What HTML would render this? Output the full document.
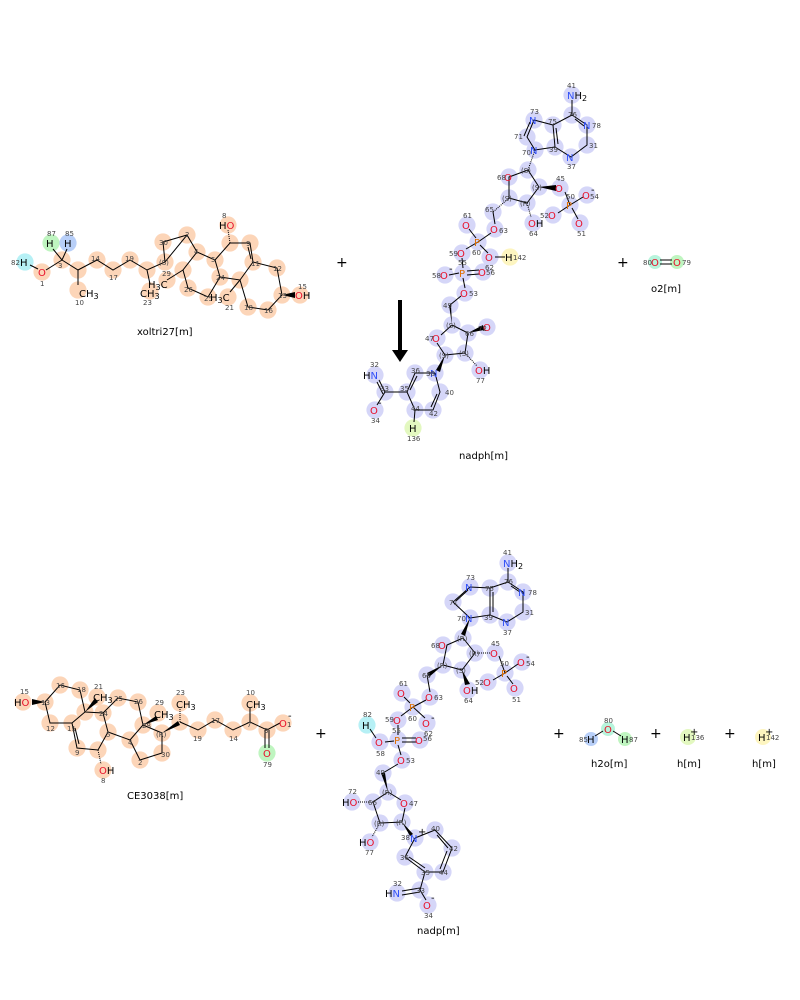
<!DOCTYPE html>
<html><head><meta charset="utf-8"><style>
html,body{margin:0;padding:0;background:#fff}
svg{display:block}
text{font-family:"DejaVu Sans","Liberation Sans",sans-serif}
.n{font-size:7px;fill:#444}
.a{font-size:10px}
.O{fill:#e8102a}.N{fill:#3050f8}.P{fill:#e07000}.H{fill:#000}
.lb{font-size:10px;fill:#000}
.pl{font-size:14px;fill:#000}
.hp circle,.hb circle{r:8.6px}
.hp{fill:#fcd5b8}.hb{fill:#d5d6f8}
line,polyline,polygon.r{stroke:#000;stroke-width:1;fill:none}
</style></head><body>
<svg width="800" height="1000" viewBox="0 0 800 1000" xmlns="http://www.w3.org/2000/svg">

<!-- ========== xoltri27 ========== -->
<g class="hp">
<circle cx="62" cy="260" r="8"/><circle cx="78" cy="270" r="8"/><circle cx="78" cy="290" r="9"/><circle cx="97" cy="260" r="8"/><circle cx="113" cy="270" r="8"/><circle cx="130" cy="260" r="8"/><circle cx="147" cy="270" r="8"/><circle cx="150" cy="291" r="9"/><circle cx="165" cy="262" r="9"/><circle cx="163" cy="242" r="8"/><circle cx="187" cy="235" r="8"/><circle cx="197" cy="252" r="8"/><circle cx="183" cy="270" r="8"/><circle cx="188" cy="288" r="8"/><circle cx="208" cy="297" r="8"/><circle cx="220" cy="277" r="8"/><circle cx="215" cy="260" r="8"/><circle cx="230" cy="243" r="8"/><circle cx="228" cy="225" r="9"/><circle cx="250" cy="243" r="8"/><circle cx="253" cy="262" r="8"/><circle cx="240" cy="280" r="8"/><circle cx="248" cy="307" r="8"/><circle cx="268" cy="310" r="8"/><circle cx="282" cy="295" r="8"/><circle cx="277" cy="268" r="8"/><circle cx="300" cy="295" r="9"/><circle cx="167" cy="280" r="8"/><circle cx="228" cy="297" r="8"/><circle cx="42" cy="272" r="8"/>
</g>
<circle cx="25" cy="262" r="8.6" fill="#b6f0f5"/>
<circle cx="51" cy="243" r="8.6" fill="#bff5c0"/>
<circle cx="68" cy="243" r="8.6" fill="#b8cff8"/>
<g>
<line x1="30" y1="265" x2="38" y2="269"/><line x1="46" y1="270" x2="62" y2="260"/><line x1="62" y1="260" x2="53" y2="249"/><line x1="62" y1="260" x2="67" y2="249"/>
<polyline points="62,260 78,270 97,260 113,270 130,260 147,270 165,262 187,235 197,252 183,270 188,288 208,297 220,277 215,260 197,252"/>
<line x1="78" y1="270" x2="78" y2="285"/><line x1="147" y1="270" x2="150" y2="284"/>
<line x1="165" y1="262" x2="163" y2="242"/><line x1="163" y1="242" x2="187" y2="235"/>
<line x1="183" y1="270" x2="167" y2="280"/>
<polyline points="215,260 230,243 250,243 253,262 240,280 220,277"/>
<line x1="248" y1="247" x2="251" y2="259"/>
<line x1="230" y1="243" x2="228" y2="230" stroke-dasharray="1,1"/>
<polyline points="253,262 277,268 282,295 268,310 248,307 240,280"/>
<line x1="240" y1="280" x2="230" y2="292"/>
<polygon points="282,295 295,292 295,298" fill="#000"/>
</g>
<text class="a H" x="20" y="266">H</text><text class="n" x="11" y="265">82</text>
<text class="a O" x="38" y="276">O</text><text class="n" x="40" y="286">1</text>
<text class="a H" x="46" y="247">H</text><text class="n" x="47" y="236">87</text>
<text class="a H" x="64" y="247">H</text><text class="n" x="65" y="236">85</text>
<text class="n" x="58" y="268">3</text><text class="n" x="91" y="261">14</text><text class="n" x="109" y="280">17</text><text class="n" x="125" y="261">19</text>
<text class="a H" x="79" y="297">CH<tspan font-size="8" dy="2">3</tspan></text><text class="n" x="75" y="305">10</text>
<text class="a H" x="140" y="297">CH<tspan font-size="8" dy="2">3</tspan></text><text class="n" x="143" y="305">23</text>
<text class="a H" x="148" y="288">H<tspan font-size="8" dy="2">3</tspan><tspan dy="-2">C</tspan></text><text class="n" x="162" y="276">29</text>
<text class="n" x="159" y="265">(S)</text><text class="n" x="159" y="245">30</text><text class="n" x="185" y="237">2</text><text class="n" x="194" y="254">4</text><text class="n" x="184" y="292">26</text><text class="n" x="204" y="301">25</text><text class="n" x="216" y="280">24</text><text class="n" x="211" y="262">5</text><text class="n" x="246" y="246">9</text><text class="n" x="251" y="266">11</text><text class="n" x="244" y="310">18</text><text class="n" x="264" y="313">16</text><text class="n" x="273" y="271">12</text><text class="n" x="278" y="298">13</text>
<text class="a H" x="219" y="229">H<tspan class="O">O</tspan></text><text class="n" x="222" y="218">8</text>
<text class="a H" x="210" y="301">H<tspan font-size="8" dy="2">3</tspan><tspan dy="-2">C</tspan></text><text class="n" x="225" y="310">21</text>
<text class="a O" x="295" y="299">O<tspan class="H">H</tspan></text><text class="n" x="298" y="289">15</text>
<text class="lb" x="137" y="335">xoltri27[m]</text>

<text class="pl" x="336" y="267">+</text>

<!-- ========== nadph ========== -->
<g class="hb">
<circle cx="572" cy="95" r="8"/><circle cx="572" cy="115" r="8"/><circle cx="587" cy="125" r="8"/><circle cx="587" cy="145" r="8"/><circle cx="571" cy="157" r="8"/><circle cx="555" cy="147" r="8"/><circle cx="553" cy="125" r="8"/><circle cx="534" cy="120" r="8"/><circle cx="527" cy="137" r="8"/><circle cx="535" cy="150" r="8"/><circle cx="528" cy="170" r="8"/><circle cx="509" cy="177" r="8"/><circle cx="539" cy="187" r="8"/><circle cx="560" cy="188" r="8"/><circle cx="570" cy="205" r="8"/><circle cx="587" cy="195" r="8"/><circle cx="553" cy="215" r="8"/><circle cx="580" cy="223" r="8"/><circle cx="527" cy="203" r="8"/><circle cx="533" cy="223" r="8"/><circle cx="509" cy="198" r="8"/><circle cx="493" cy="212" r="8"/><circle cx="495" cy="229" r="8"/><circle cx="478" cy="242" r="8"/><circle cx="467" cy="225" r="8"/><circle cx="462" cy="253" r="8"/><circle cx="490" cy="257" r="8"/><circle cx="463" cy="273" r="8"/><circle cx="445" cy="275" r="8"/><circle cx="483" cy="272" r="8"/><circle cx="465" cy="293" r="8"/><circle cx="450" cy="305" r="8"/><circle cx="452" cy="325" r="8"/><circle cx="468" cy="333" r="8"/><circle cx="487" cy="327" r="8"/><circle cx="437" cy="338" r="8"/><circle cx="445" cy="355" r="8"/><circle cx="465" cy="353" r="8"/><circle cx="480" cy="370" r="8"/><circle cx="435" cy="373" r="8"/><circle cx="415" cy="373" r="8"/><circle cx="407" cy="392" r="8"/><circle cx="385" cy="392" r="8"/><circle cx="375" cy="375" r="8"/><circle cx="375" cy="410" r="8"/><circle cx="415" cy="410" r="8"/><circle cx="433" cy="410" r="8"/><circle cx="440" cy="392" r="8"/>
</g>
<circle cx="510" cy="257" r="8.6" fill="#fdf5c0"/>
<circle cx="413" cy="428" r="8.6" fill="#e3f8c0"/>
<g>
<line x1="572" y1="100" x2="572" y2="115"/><polyline points="572,115 587,125 587,145 571,157 555,147 553,125 572,115"/>
<line x1="556" y1="128" x2="558" y2="144"/><line x1="575" y1="119" x2="584" y2="126"/>
<polyline points="553,125 534,120 527,137 535,150 555,147"/><line x1="530" y1="122" x2="524" y2="136"/>
<line x1="535" y1="150" x2="528" y2="170" stroke-dasharray="1,1"/>
<polyline points="528,170 509,177 509,198 527,203 539,187 528,170"/>
<polygon points="539,187 556,185 556,191" fill="#000"/>
<polyline points="565,192 570,205 583,197"/><line x1="570" y1="205" x2="558" y2="213"/><line x1="572" y1="208" x2="578" y2="219"/>
<line x1="527" y1="203" x2="531" y2="217" stroke-dasharray="1,1"/>
<line x1="509" y1="198" x2="493" y2="212" stroke-dasharray="1,1"/>
<line x1="493" y1="212" x2="495" y2="224"/><line x1="491" y1="233" x2="478" y2="242"/>
<line x1="476" y1="238" x2="469" y2="229"/><line x1="480" y1="245" x2="488" y2="253"/><line x1="495" y1="257" x2="505" y2="257"/>
<line x1="478" y1="242" x2="466" y2="249"/><line x1="462" y1="258" x2="463" y2="268"/>
<line x1="449" y1="275" x2="459" y2="273"/><line x1="467" y1="271" x2="479" y2="270"/><line x1="467" y1="275" x2="479" y2="274"/>
<line x1="463" y1="278" x2="465" y2="288"/><line x1="461" y1="296" x2="450" y2="305"/>
<polygon points="452,325 449,305 451,305" fill="#000"/>
<polyline points="452,325 468,333 465,353 445,355 437,343"/><line x1="441" y1="335" x2="452" y2="325"/>
<polygon points="468,333 483,325 484,330" fill="#000"/>
<line x1="465" y1="353" x2="477" y2="366" stroke-dasharray="1,1"/>
<polygon points="445,355 436,370 440,372" fill="#000"/>
<polyline points="435,373 415,373 407,392 415,410 433,410 440,392 435,373"/>
<line x1="410" y1="390" x2="417" y2="376"/><line x1="437" y1="394" x2="431" y2="407"/>
<line x1="407" y1="392" x2="385" y2="392"/><line x1="385" y1="392" x2="379" y2="380"/><line x1="383" y1="394" x2="377" y2="382"/><line x1="385" y1="392" x2="377" y2="405"/>
<line x1="415" y1="410" x2="414" y2="422"/>
</g>
<text class="a N" x="567" y="99">N<tspan class="H">H</tspan><tspan class="H" font-size="8" dy="2">2</tspan></text><text class="n" x="567" y="88">41</text>
<text class="a N" x="583" y="129">N</text><text class="n" x="592" y="128">78</text><text class="n" x="589" y="148">31</text>
<text class="a N" x="566" y="161">N</text><text class="n" x="567" y="169">37</text>
<text class="a N" x="529" y="124">N</text><text class="n" x="530" y="114">73</text><text class="n" x="514" y="139">71</text>
<text class="a N" x="530" y="154">N</text><text class="n" x="522" y="155">70</text><text class="n" x="549" y="152">39</text><text class="n" x="548" y="124">75</text><text class="n" x="568" y="117">76</text>
<text class="n" x="521" y="173">(S)</text><text class="n" x="532" y="190">(S)</text><text class="n" x="520" y="206">(R)</text><text class="n" x="502" y="201">(S)</text>
<text class="a O" x="504" y="181">O</text><text class="n" x="497" y="180">68</text>
<text class="a O" x="555" y="192">O</text><text class="n" x="556" y="181">45</text>
<text class="a P" x="566" y="209">P</text><text class="n" x="566" y="199">50</text>
<text class="a O" x="582" y="199">O</text><text class="a H" x="591" y="193">-</text><text class="n" x="590" y="199">54</text>
<text class="a O" x="548" y="219">O</text><text class="n" x="540" y="218">52</text>
<text class="a O" x="575" y="227">O</text><text class="n" x="577" y="236">51</text>
<text class="a O" x="528" y="227">O<tspan class="H">H</tspan></text><text class="n" x="529" y="236">64</text>
<text class="n" x="485" y="212">65</text>
<text class="a O" x="490" y="233">O</text><text class="n" x="499" y="233">63</text>
<text class="a P" x="474" y="246">P</text><text class="n" x="472" y="255">60</text>
<text class="a O" x="462" y="229">O</text><text class="n" x="463" y="218">61</text>
<text class="a O" x="457" y="257">O</text><text class="n" x="449" y="256">59</text>
<text class="a O" x="485" y="261">O</text><text class="n" x="485" y="270">62</text>
<text class="a H" x="505" y="261">H</text><text class="n" x="513" y="260">142</text>
<text class="a P" x="459" y="277">P</text><text class="n" x="458" y="265">55</text>
<text class="a O" x="440" y="279">O</text><text class="a H" x="449" y="272">-</text><text class="n" x="432" y="278">58</text>
<text class="a O" x="478" y="276">O</text><text class="n" x="486" y="275">56</text>
<text class="a O" x="460" y="297">O</text><text class="n" x="469" y="296">53</text>
<text class="n" x="443" y="308">49</text><text class="n" x="446" y="328">(S)</text><text class="n" x="465" y="336">66</text>
<text class="a O" x="483" y="331">O</text><text class="n" x="478" y="331">72</text>
<text class="a O" x="432" y="342">O</text><text class="n" x="425" y="341">47</text>
<text class="n" x="439" y="358">(S)</text><text class="n" x="459" y="356">(S)</text>
<text class="a O" x="475" y="374">O<tspan class="H">H</tspan></text><text class="n" x="476" y="383">77</text>
<text class="a N" x="430" y="377">N</text><text class="n" x="426" y="376">38</text><text class="n" x="411" y="373">36</text><text class="n" x="400" y="391">35</text><text class="n" x="380" y="391">33</text><text class="n" x="411" y="411">44</text><text class="n" x="429" y="416">42</text><text class="n" x="445" y="395">40</text>
<text class="a N" x="363" y="379"><tspan class="H">H</tspan>N</text><text class="n" x="370" y="367">32</text>
<text class="a O" x="370" y="414">O</text><text class="a H" x="378" y="406">-</text><text class="n" x="371" y="423">34</text>
<text class="a H" x="409" y="432">H</text><text class="n" x="407" y="441">136</text>
<text class="lb" x="459" y="459">nadph[m]</text>

<!-- arrow -->
<rect x="398" y="300" width="4" height="50" fill="#000"/>
<polygon points="392,350 408,350 400,362" fill="#000"/>

<text class="pl" x="617" y="267">+</text>
<!-- o2 -->
<circle cx="655" cy="262" r="7" fill="#b8f4dc"/><circle cx="677" cy="262" r="7" fill="#bff5c0"/>
<line x1="660" y1="260" x2="672" y2="260"/><line x1="660" y1="264" x2="672" y2="264"/>
<text class="a O" x="651" y="266">O</text><text class="a O" x="673" y="266">O</text>
<text class="n" x="643" y="265">80</text><text class="n" x="682" y="265">79</text>
<text class="lb" x="651" y="292">o2[m]</text>

<!-- ========== CE3038 ========== -->
<g class="hp">
<circle cx="23" cy="702" r="9"/><circle cx="45" cy="702" r="8"/><circle cx="60" cy="685" r="8"/><circle cx="80" cy="690" r="8"/><circle cx="85" cy="712" r="8"/><circle cx="97" cy="697" r="9"/><circle cx="50" cy="723" r="8"/><circle cx="72" cy="723" r="8"/><circle cx="77" cy="748" r="8"/><circle cx="98" cy="750" r="8"/><circle cx="103" cy="770" r="9"/><circle cx="108" cy="732" r="8"/><circle cx="103" cy="713" r="8"/><circle cx="118" cy="698" r="8"/><circle cx="138" cy="702" r="8"/><circle cx="143" cy="725" r="8"/><circle cx="130" cy="740" r="8"/><circle cx="140" cy="760" r="8"/><circle cx="162" cy="753" r="8"/><circle cx="162" cy="733" r="8"/><circle cx="158" cy="713" r="8"/><circle cx="180" cy="722" r="8"/><circle cx="180" cy="703" r="9"/><circle cx="198" cy="730" r="8"/><circle cx="215" cy="720" r="8"/><circle cx="233" cy="730" r="8"/><circle cx="250" cy="722" r="8"/><circle cx="250" cy="703" r="9"/><circle cx="267" cy="730" r="8"/><circle cx="283" cy="723" r="8"/>
</g>
<circle cx="267" cy="753" r="8.6" fill="#bff5c0"/>
<g>
<polygon points="45,702 32,699 32,705" fill="#000"/>
<polyline points="45,702 60,685 80,690 85,712 72,723 50,723 45,702"/>
<polyline points="72,723 77,748 98,750 108,732 103,713 85,712"/><line x1="75" y1="728" x2="79" y2="744"/>
<line x1="98" y1="750" x2="101" y2="764" stroke-dasharray="1,1"/>
<polygon points="85,712 95,698 98,702" fill="#000"/>
<polyline points="103,713 118,698 138,702 143,725 130,740 108,732"/>
<polyline points="130,740 140,760 162,753 162,733 143,725"/>
<polygon points="143,725 156,716 158,720" fill="#000"/>
<polygon points="162,733 178,721 180,725" fill="#000"/>
<line x1="180" y1="722" x2="180" y2="708" stroke-dasharray="1,1"/>
<polyline points="180,722 198,730 215,720 233,730 250,722 267,730 280,723"/>
<line x1="250" y1="722" x2="250" y2="708"/>
<line x1="265" y1="730" x2="265" y2="748"/><line x1="269" y1="730" x2="269" y2="748"/>
</g>
<text class="a O" x="14" y="706"><tspan class="H">H</tspan>O</text><text class="n" x="20" y="694">15</text>
<text class="n" x="41" y="705">13</text><text class="n" x="56" y="688">16</text><text class="n" x="77" y="692">18</text><text class="n" x="46" y="731">12</text><text class="n" x="67" y="731">11</text><text class="n" x="75" y="755">9</text>
<text class="a H" x="93" y="701">CH<tspan font-size="8" dy="2">3</tspan></text><text class="n" x="94" y="689">21</text>
<text class="n" x="99" y="716">24</text><text class="n" x="114" y="701">25</text><text class="n" x="134" y="704">26</text><text class="n" x="106" y="737">5</text><text class="n" x="128" y="745">4</text><text class="n" x="138" y="765">2</text><text class="n" x="161" y="757">30</text><text class="n" x="142" y="728">28</text><text class="n" x="156" y="737">(R)</text>
<text class="a H" x="154" y="718">CH<tspan font-size="8" dy="2">3</tspan></text><text class="n" x="155" y="705">29</text>
<text class="a H" x="176" y="708">CH<tspan font-size="8" dy="2">3</tspan></text><text class="n" x="176" y="695">23</text>
<text class="n" x="193" y="741">19</text><text class="n" x="211" y="723">17</text><text class="n" x="229" y="741">14</text><text class="n" x="247" y="727">7</text><text class="n" x="264" y="733">3</text>
<text class="a H" x="246" y="708">CH<tspan font-size="8" dy="2">3</tspan></text><text class="n" x="246" y="695">10</text>
<text class="a O" x="279" y="727">O</text><text class="n" x="287" y="727">1</text><text class="a H" x="288" y="719">-</text>
<text class="a O" x="263" y="757">O</text><text class="n" x="263" y="767">79</text>
<text class="a O" x="99" y="774">O<tspan class="H">H</tspan></text><text class="n" x="101" y="783">8</text>
<text class="lb" x="127" y="799">CE3038[m]</text>

<text class="pl" x="315" y="738">+</text>

<!-- ========== nadp ========== -->
<g class="hb">
<circle cx="508" cy="563" r="8"/><circle cx="508" cy="582" r="8"/><circle cx="523" cy="592" r="8"/><circle cx="523" cy="612" r="8"/><circle cx="507" cy="622" r="8"/><circle cx="490" cy="615" r="8"/><circle cx="490" cy="588" r="8"/><circle cx="470" cy="587" r="8"/><circle cx="453" cy="602" r="8"/><circle cx="470" cy="618" r="8"/><circle cx="463" cy="638" r="8"/><circle cx="443" cy="645" r="8"/><circle cx="475" cy="653" r="8"/><circle cx="495" cy="653" r="8"/><circle cx="505" cy="673" r="8"/><circle cx="522" cy="662" r="8"/><circle cx="488" cy="682" r="8"/><circle cx="515" cy="688" r="8"/><circle cx="462" cy="670" r="8"/><circle cx="468" cy="690" r="8"/><circle cx="443" cy="665" r="8"/><circle cx="427" cy="675" r="8"/><circle cx="430" cy="697" r="8"/><circle cx="413" cy="707" r="8"/><circle cx="402" cy="693" r="8"/><circle cx="398" cy="720" r="8"/><circle cx="427" cy="723" r="8"/><circle cx="398" cy="740" r="8"/><circle cx="380" cy="742" r="8"/><circle cx="420" cy="740" r="8"/><circle cx="402" cy="760" r="8"/><circle cx="383" cy="773" r="8"/><circle cx="388" cy="792" r="8"/><circle cx="405" cy="803" r="8"/><circle cx="402" cy="822" r="8"/><circle cx="373" cy="802" r="8"/><circle cx="352" cy="802" r="8"/><circle cx="380" cy="823" r="8"/><circle cx="370" cy="842" r="8"/><circle cx="415" cy="838" r="8"/><circle cx="435" cy="830" r="8"/><circle cx="452" cy="848" r="8"/><circle cx="443" cy="872" r="8"/><circle cx="425" cy="872" r="8"/><circle cx="405" cy="857" r="8"/><circle cx="420" cy="890" r="8"/><circle cx="397" cy="893" r="8"/><circle cx="428" cy="905" r="8"/>
</g>
<circle cx="367" cy="725" r="8.6" fill="#b6f0f5"/>
<g>
<line x1="508" y1="568" x2="508" y2="582"/><polyline points="508,582 523,592 523,612 507,622 490,615 490,588 508,582"/>
<line x1="493" y1="592" x2="493" y2="612"/><line x1="511" y1="586" x2="520" y2="592"/>
<polyline points="490,588 470,587 453,602 470,618 490,615"/><line x1="468" y1="590" x2="456" y2="601"/>
<polygon points="470,618 461,634 465,636" fill="#000"/>
<polyline points="463,638 447,645 443,665 462,670 475,653 463,638"/>
<line x1="475" y1="653" x2="490" y2="653" stroke-dasharray="1,1"/>
<polyline points="499,656 505,673 518,664"/><line x1="505" y1="673" x2="493" y2="680"/><line x1="507" y1="676" x2="513" y2="684"/>
<polygon points="462,670 465,685 470,684" fill="#000"/>
<polygon points="443,665 427,673 429,677" fill="#000"/>
<line x1="427" y1="675" x2="430" y2="692"/><line x1="426" y1="700" x2="413" y2="707"/>
<line x1="410" y1="703" x2="404" y2="697"/><line x1="413" y1="707" x2="425" y2="718"/><line x1="413" y1="707" x2="401" y2="716"/>
<line x1="398" y1="725" x2="398" y2="735"/><line x1="385" y1="742" x2="394" y2="741"/><line x1="370" y1="729" x2="376" y2="738"/>
<line x1="402" y1="738" x2="416" y2="738"/><line x1="402" y1="742" x2="416" y2="742"/>
<line x1="398" y1="745" x2="401" y2="755"/><line x1="398" y1="764" x2="383" y2="773"/>
<polygon points="388,792 381,773 385,773" fill="#000"/>
<polyline points="388,792 401,800"/><polyline points="405,808 402,822 380,823 373,802 388,792"/>
<line x1="373" y1="802" x2="358" y2="802" stroke-dasharray="1,1"/><line x1="380" y1="823" x2="372" y2="837" stroke-dasharray="1,1"/>
<polygon points="402,822 413,834 410,836" fill="#000"/>
<polyline points="415,838 435,830 452,848 443,872 425,872 405,857 415,838"/>
<line x1="437" y1="835" x2="448" y2="848"/><line x1="440" y1="869" x2="447" y2="851"/><line x1="409" y1="857" x2="425" y2="868"/>
<line x1="425" y1="872" x2="420" y2="890"/><line x1="420" y1="888" x2="402" y2="891"/><line x1="420" y1="892" x2="402" y2="895"/><line x1="420" y1="890" x2="426" y2="900"/>
</g>
<text class="a N" x="503" y="567">N<tspan class="H">H</tspan><tspan class="H" font-size="8" dy="2">2</tspan></text><text class="n" x="503" y="555">41</text>
<text class="a N" x="518" y="596">N</text><text class="n" x="528" y="595">78</text><text class="n" x="525" y="615">31</text>
<text class="a N" x="502" y="626">N</text><text class="n" x="503" y="635">37</text>
<text class="a N" x="465" y="591">N</text><text class="n" x="466" y="580">73</text><text class="n" x="449" y="605">71</text>
<text class="a N" x="465" y="622">N</text><text class="n" x="457" y="621">70</text><text class="n" x="484" y="620">39</text><text class="n" x="485" y="591">75</text><text class="n" x="504" y="584">76</text>
<text class="n" x="457" y="641">(R)</text><text class="n" x="469" y="656">(R)</text><text class="n" x="456" y="673">(S)</text><text class="n" x="437" y="668">(R)</text>
<text class="a O" x="438" y="649">O</text><text class="n" x="431" y="648">68</text>
<text class="a O" x="490" y="657">O</text><text class="n" x="491" y="646">45</text>
<text class="a P" x="501" y="677">P</text><text class="n" x="500" y="666">50</text>
<text class="a O" x="517" y="666">O</text><text class="a H" x="526" y="660">-</text><text class="n" x="526" y="666">54</text>
<text class="a O" x="483" y="686">O</text><text class="n" x="475" y="685">52</text>
<text class="a O" x="510" y="692">O</text><text class="n" x="512" y="702">51</text>
<text class="a O" x="463" y="694">O<tspan class="H">H</tspan></text><text class="n" x="464" y="703">64</text>
<text class="n" x="422" y="678">65</text>
<text class="a O" x="425" y="701">O</text><text class="n" x="434" y="700">63</text>
<text class="a P" x="409" y="711">P</text><text class="n" x="408" y="721">60</text>
<text class="a O" x="397" y="697">O</text><text class="n" x="399" y="686">61</text>
<text class="a O" x="393" y="724">O</text><text class="n" x="385" y="722">59</text>
<text class="a O" x="422" y="727">O</text><text class="a H" x="431" y="721">-</text><text class="n" x="424" y="736">62</text>
<text class="a H" x="362" y="729">H</text><text class="n" x="363" y="717">82</text>
<text class="a P" x="394" y="744">P</text><text class="n" x="392" y="733">55</text>
<text class="a O" x="375" y="746">O</text><text class="n" x="376" y="756">58</text>
<text class="a O" x="415" y="744">O</text><text class="n" x="423" y="741">56</text>
<text class="a O" x="397" y="764">O</text><text class="n" x="406" y="763">53</text>
<text class="n" x="376" y="775">49</text><text class="n" x="382" y="795">(R)</text><text class="n" x="396" y="825">(R)</text><text class="n" x="374" y="826">(R)</text><text class="n" x="368" y="805">66</text>
<text class="a O" x="400" y="807">O</text><text class="n" x="409" y="806">47</text>
<text class="a O" x="342" y="806"><tspan class="H">H</tspan>O</text><text class="n" x="348" y="794">72</text>
<text class="a O" x="359" y="846"><tspan class="H">H</tspan>O</text><text class="n" x="365" y="855">77</text>
<text class="a N" x="410" y="842">N</text><text class="a H" x="418" y="835">+</text><text class="n" x="401" y="840">38</text><text class="n" x="431" y="831">40</text><text class="n" x="449" y="851">42</text><text class="n" x="439" y="875">44</text><text class="n" x="421" y="875">35</text><text class="n" x="400" y="860">36</text><text class="n" x="416" y="893">33</text>
<text class="a N" x="385" y="897"><tspan class="H">H</tspan>N</text><text class="n" x="393" y="886">32</text>
<text class="a O" x="423" y="909">O</text><text class="a H" x="431" y="901">-</text><text class="n" x="424" y="918">34</text>
<text class="lb" x="417" y="934">nadp[m]</text>

<text class="pl" x="553" y="738">+</text>
<!-- h2o -->
<circle cx="591" cy="739" r="7" fill="#b8cff8"/><circle cx="608" cy="729" r="7" fill="#b8f4dc"/><circle cx="625" cy="739" r="7" fill="#bff5c0"/>
<line x1="595" y1="736" x2="603" y2="731"/><line x1="613" y1="731" x2="621" y2="736"/>
<text class="a O" x="604" y="733">O</text><text class="n" x="604" y="723">80</text>
<text class="a H" x="587" y="743">H</text><text class="n" x="579" y="742">85</text>
<text class="a H" x="621" y="743">H</text><text class="n" x="629" y="742">87</text>
<text class="lb" x="591" y="767">h2o[m]</text>
<text class="pl" x="650" y="738">+</text>
<circle cx="688" cy="737" r="8" fill="#e3f8c0"/>
<text class="a H" x="683" y="741">H</text><text class="n" x="691" y="740">136</text><text class="a H" x="690" y="735">+</text>
<text class="lb" x="677" y="767">h[m]</text>
<text class="pl" x="724" y="738">+</text>
<circle cx="763" cy="737" r="8" fill="#fdf5c0"/>
<text class="a H" x="758" y="741">H</text><text class="n" x="766" y="740">142</text><text class="a H" x="765" y="735">+</text>
<text class="lb" x="752" y="767">h[m]</text>
</svg>
</body></html>
